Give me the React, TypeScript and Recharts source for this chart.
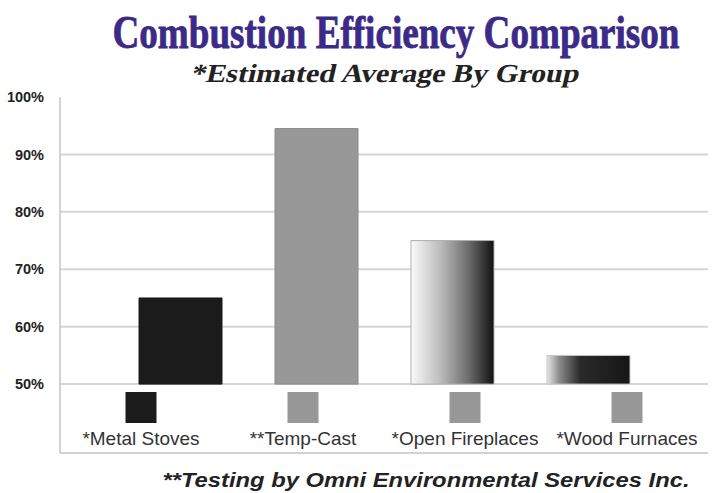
import { BarChart, Bar, XAxis, YAxis, CartesianGrid, Cell } from "recharts";

const groups = ["*Metal Stoves", "**Temp-Cast", "*Open Fireplaces", "*Wood Furnaces"];
const efficiency = [65, 94.5, 75, 55];
const yTicks = [50, 60, 70, 80, 90, 100];
const gridValues = [50, 60, 70, 80, 90];

const data = groups.map((name, i) => ({ name, value: efficiency[i] }));

const barFills = ["#1b1b1b", "#989898", "url(#gradOpen)", "url(#gradWood)"];
const barStrokes = ["#1b1b1b", "#8a8a8a", "#b0b0b0", "#c8c8c8"];
const keyFills = ["#1b1b1b", "#989898", "#989898", "#989898"];

const LegendTick = (props: any) => {
  const { x, y, index, payload } = props;
  return (
    <g>
      <rect x={x - 15.5} y={y - 61} width={31} height={31} fill={keyFills[index]} />
      <text
        x={x}
        y={y - 8}
        textAnchor="middle"
        fontFamily="Liberation Sans, Arial, sans-serif"
        fontSize={19}
        fill="#333"
      >
        {payload.value}
      </text>
    </g>
  );
};

export default function App() {
  return (
    <div style={{ position: "absolute", left: 0, top: 0, width: 728, height: 493, background: "#fff" }}>
      <BarChart
        width={728}
        height={493}
        data={data}
        margin={{ top: 97, right: 20, bottom: 0, left: 0 }}
      >
        <defs>
          <linearGradient id="gradOpen" x1="0" y1="0" x2="1" y2="0">
            <stop offset="0%" stopColor="#fafafa" />
            <stop offset="35%" stopColor="#bdbdbd" />
            <stop offset="70%" stopColor="#6a6a6a" />
            <stop offset="100%" stopColor="#111" />
          </linearGradient>
          <linearGradient id="gradWood" x1="0" y1="0" x2="1" y2="0">
            <stop offset="0%" stopColor="#e6e6e6" />
            <stop offset="15%" stopColor="#8a8a8a" />
            <stop offset="40%" stopColor="#2a2a2a" />
            <stop offset="100%" stopColor="#161616" />
          </linearGradient>
        </defs>
        <CartesianGrid
          xAxisId="bars"
          vertical={false}
          horizontalValues={gridValues}
          stroke="#d6d6d6"
          strokeWidth={2}
        />
        <XAxis xAxisId="bars" dataKey="name" hide height={0} padding={{ left: 52, right: 52 }} />
        <XAxis
          xAxisId="legend"
          dataKey="name"
          height={40}
          interval={0}
          tickLine={false}
          tickSize={0}
          tickMargin={0}
          axisLine={{ stroke: "#c4c4c4", strokeWidth: 1.5 }}
          tick={<LegendTick />}
        />
        <YAxis
          width={60}
          domain={[38, 100]}
          ticks={yTicks}
          allowDataOverflow
          tickLine={false}
          tickMargin={10}
          axisLine={{ stroke: "#c4c4c4", strokeWidth: 1.5 }}
          tickFormatter={(v: number) => `${v}%`}
          tick={{ fill: "#222", fontSize: 14.5, fontWeight: 700, fontFamily: "Liberation Sans, Arial, sans-serif" }}
        />
        <Bar
          xAxisId="bars"
          dataKey={(d: any) => [50, d.value]}
          barSize={83}
          isAnimationActive={false}
        >
          {data.map((d, i) => (
            <Cell key={d.name} fill={barFills[i]} stroke={barStrokes[i]} strokeWidth={1} />
          ))}
        </Bar>
      </BarChart>
      <svg
        width={728}
        height={493}
        style={{ position: "absolute", left: 0, top: 0, pointerEvents: "none" }}
      >
        <text
          x={396}
          y={48}
          textAnchor="middle"
          fontFamily="Liberation Serif, Times New Roman, serif"
          fontWeight={700}
          fontSize={46}
          fill="#3b2a87"
          stroke="#3b2a87"
          strokeWidth={0.8}
          textLength={567}
          lengthAdjust="spacingAndGlyphs"
        >
          Combustion Efficiency Comparison
        </text>
        <g transform="translate(384 82) skewX(-13)">
          <text
            x={0}
            y={0}
            textAnchor="middle"
            fontFamily="Liberation Serif, Times New Roman, serif"
            fontWeight={700}
            fontSize={26}
            fill="#222"
            textLength={388}
            lengthAdjust="spacingAndGlyphs"
          >
            *Estimated Average By Group
          </text>
        </g>
        <text
          x={426}
          y={487}
          textAnchor="middle"
          fontFamily="Liberation Sans, Arial, sans-serif"
          fontWeight={700}
          fontStyle="italic"
          fontSize={20}
          fill="#222"
          textLength={527}
          lengthAdjust="spacingAndGlyphs"
        >
          **Testing by Omni Environmental Services Inc.
        </text>
      </svg>
    </div>
  );
}
